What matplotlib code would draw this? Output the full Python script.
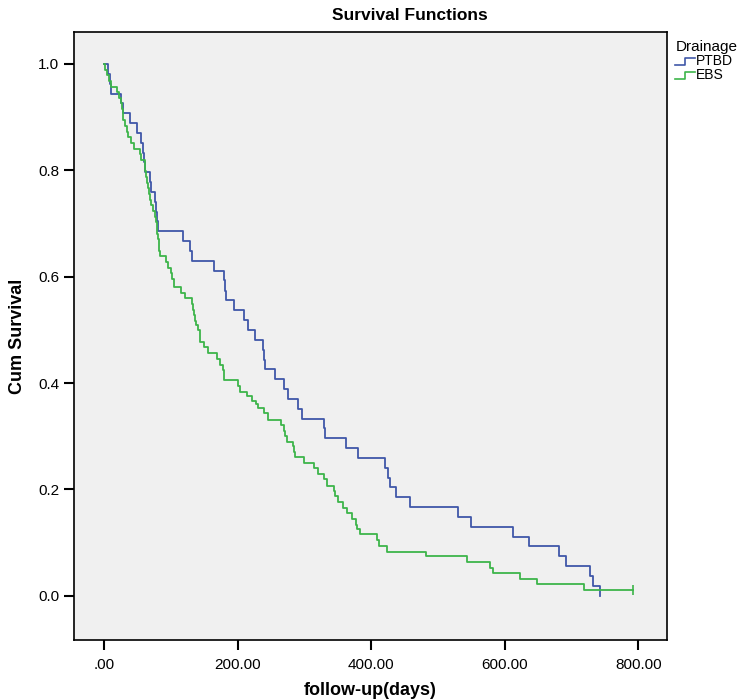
import matplotlib
matplotlib.use("Agg")
import matplotlib.pyplot as plt
from matplotlib.legend_handler import HandlerBase
from matplotlib.lines import Line2D

plt.rcParams["font.family"] = ["Liberation Sans", "DejaVu Sans"]

# Kaplan-Meier steps: event time (days) -> survival after it
ptbd_t = [0, 6, 9, 11, 26, 29, 39, 50, 56, 59, 60, 61, 69, 71, 77, 78, 80, 81, 118,
          129, 131, 164, 179, 181, 183, 194, 209, 216, 226, 238, 239, 241, 256, 269,
          276, 290, 296, 330, 331, 362, 380, 421, 425, 428, 437, 458, 530, 549, 613,
          637, 682, 692, 728, 732, 743]
ptbd_s = [1.000, 0.981, 0.963, 0.944, 0.926, 0.907, 0.889, 0.870, 0.852, 0.833, 0.815,
          0.796, 0.778, 0.759, 0.741, 0.722, 0.704, 0.685, 0.667, 0.648, 0.630, 0.611,
          0.593, 0.574, 0.556, 0.537, 0.519, 0.500, 0.481, 0.463, 0.444, 0.426, 0.407,
          0.389, 0.370, 0.352, 0.333, 0.315, 0.296, 0.278, 0.259, 0.241, 0.222, 0.204,
          0.185, 0.167, 0.148, 0.130, 0.111, 0.093, 0.074, 0.056, 0.037, 0.019, 0.000]

ebs_t = [0, 2, 5, 8, 11, 19, 22, 26, 27, 28, 29, 31, 34, 36, 40, 45, 54, 56, 61, 62,
         63, 65, 66, 67, 69, 71, 73, 76, 78, 79, 80, 81, 82, 83, 84, 93, 96, 101, 102,
         104, 115, 121, 131, 133, 134, 136, 138, 140, 143, 144, 149, 156, 169, 174, 178,
         179, 180, 201, 204, 214, 221, 227, 231, 239, 246, 265, 269, 271, 274, 283, 284,
         286, 299, 314, 320, 330, 334, 344, 346, 351, 358, 364, 371, 377, 379, 383, 409,
         412, 424, 482, 543, 578, 583, 623, 648, 719, 792]
ebs_s = [1.000, 0.989, 0.979, 0.968, 0.957, 0.947, 0.936, 0.926, 0.915, 0.904, 0.894,
         0.883, 0.872, 0.862, 0.851, 0.840, 0.830, 0.819, 0.809, 0.798, 0.787, 0.777,
         0.766, 0.755, 0.745, 0.734, 0.723, 0.713, 0.702, 0.691, 0.681, 0.670, 0.660,
         0.649, 0.638, 0.628, 0.617, 0.606, 0.596, 0.580, 0.569, 0.559, 0.549, 0.538,
         0.528, 0.517, 0.510, 0.500, 0.489, 0.478, 0.467, 0.457, 0.446, 0.434, 0.424,
         0.414, 0.405, 0.395, 0.384, 0.375, 0.366, 0.360, 0.353, 0.343, 0.331, 0.321,
         0.310, 0.300, 0.290, 0.281, 0.271, 0.261, 0.250, 0.240, 0.229, 0.219, 0.207,
         0.197, 0.187, 0.177, 0.166, 0.155, 0.144, 0.134, 0.125, 0.116, 0.105, 0.094,
         0.083, 0.074, 0.063, 0.052, 0.043, 0.032, 0.023, 0.011, 0.011]

groups = ["PTBD", "EBS"]
colors = ["#3F57A8", "#3DB54A"]
xticks = [0, 200, 400, 600, 800]
xticklabels = [".00", "200.00", "400.00", "600.00", "800.00"]
yticks = [0.0, 0.2, 0.4, 0.6, 0.8, 1.0]
yticklabels = ["0.0", "0.2", "0.4", "0.6", "0.8", "1.0"]


class StepHandler(HandlerBase):
    # SPSS-style legend key: a small step
    def create_artists(self, legend, orig_handle, xdescent, ydescent, width, height,
                       fontsize, trans):
        x0, x1 = -xdescent, -xdescent + width
        xm = x0 + 0.5 * width
        y0, y1 = -ydescent + 0.05 * height, -ydescent + 0.75 * height
        ln = Line2D([x0, xm, xm, x1], [y0, y0, y1, y1], color=orig_handle.get_color(),
                    lw=1.2, transform=trans)
        return [ln]


fig = plt.figure(figsize=(7.5, 6.99), dpi=100)
ax = fig.add_axes([74 / 750, 1 - 640 / 699, (667 - 74) / 750, (640 - 32) / 699])
ax.set_facecolor("#F0F0F0")

handles = []
for name, t, s, c in zip(groups, [ptbd_t, ebs_t], [ptbd_s, ebs_s], colors):
    h, = ax.step(t, s, where="post", color=c, lw=1.3, label=name)
    handles.append(h)
# censored last observation of EBS
ax.plot([ebs_t[-1]], [ebs_s[-1]], marker="|", ms=7, mew=1.2, color=colors[1])

ax.set_xlim(-45, 843)
ax.set_ylim(-0.083, 1.060)
ax.set_xticks(xticks)
ax.set_xticklabels(xticklabels)
ax.set_yticks(yticks)
ax.set_yticklabels(yticklabels)
ax.tick_params(direction="out", length=7, width=1.5, labelsize=11, color="black")
ax.tick_params(axis="x", pad=6)
for sp in ax.spines.values():
    sp.set_linewidth(1.2)
ax.set_xlabel("follow-up(days)", fontsize=13, fontweight="bold", labelpad=7)
ax.set_ylabel("Cum Survival", fontsize=13, fontweight="bold", labelpad=9)
fig.text(410 / 750, 1 - 15 / 699, "Survival Functions", ha="center", va="center",
         fontsize=12.5, fontweight="bold")

leg = ax.legend(handles=handles, title="Drainage", loc="upper left",
                bbox_to_anchor=(1.0, 1.0), frameon=False, fontsize=10,
                title_fontsize=11, alignment="left", handlelength=1.4,
                handletextpad=0.1, labelspacing=0.0, borderaxespad=0.2,
                handler_map={Line2D: StepHandler()})

fig.savefig("out.png", dpi=100)
